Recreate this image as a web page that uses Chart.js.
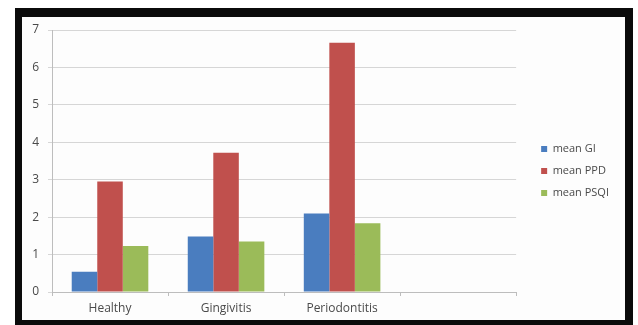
<!DOCTYPE html>
<html>
<head>
<meta charset="utf-8">
<script src="https://cdn.jsdelivr.net/npm/chart.js@4/dist/chart.umd.min.js"></script>
<style>
  html, body { margin: 0; padding: 0; background: #ffffff; }
  #wrap { position: relative; width: 638px; height: 325px; overflow: hidden; }
  #frame {
    position: absolute; left: 15px; top: 8px; width: 603px; height: 303px;
    border-style: solid; border-color: #0b0b0b;
    border-width: 9px 8px 5px 7px; background: #fdfdfd;
  }
  #chart { position: absolute; left: 0; top: 0; }
</style>
</head>
<body>
<div id="wrap">
  <div id="frame"></div>
  <canvas id="chart" width="638" height="325"></canvas>
</div>
<script>
// Groups along the x axis (the last slot is left empty)
const categories = ['Healthy', 'Gingivitis', 'Periodontitis', ''];

// Mean scores per group
const meanGI   = [0.54, 1.48, 2.10, null];
const meanPPD  = [2.95, 3.72, 6.66, null];
const meanPSQI = [1.23, 1.35, 1.84, null];

// Value axis ticks
const yTicks = [0, 1, 2, 3, 4, 5, 6, 7];

const seriesNames = ['mean GI', 'mean PPD', 'mean PSQI'];
const seriesColors = ['#4a7dbf', '#c0504d', '#9bbb59'];

const textColor = '#4a4a4a';
const font = { family: '"Open Sans", "Liberation Sans", sans-serif', size: 12 };

// Nudge the legend block up a little after layout
const legendShift = {
  id: 'legendShift',
  afterLayout(chart) {
    if (chart.legend) {
      chart.legend.top -= 4;
      chart.legend.bottom -= 4;
    }
  }
};

new Chart(document.getElementById('chart'), {
  type: 'bar',
  data: {
    labels: categories,
    datasets: [meanGI, meanPPD, meanPSQI].map((values, i) => ({
      label: seriesNames[i],
      data: values,
      backgroundColor: seriesColors[i],
      borderWidth: 0,
      barPercentage: 1,
      categoryPercentage: 0.66
    }))
  },
  plugins: [legendShift],
  options: {
    responsive: false,
    animation: false,
    layout: { padding: { left: 22, top: 30, right: 19, bottom: 5 } },
    plugins: {
      tooltip: { enabled: false },
      legend: {
        position: 'right',
        align: 'center',
        labels: {
          boxWidth: 6,
          boxHeight: 6,
          padding: 11,
          color: textColor,
          font: { family: font.family, size: 11 }
        }
      }
    },
    scales: {
      x: {
        grid: { drawOnChartArea: false, drawTicks: true, tickLength: 4, color: '#bdbdbd' },
        border: { display: true, color: '#bdbdbd' },
        ticks: { color: textColor, font: font, padding: 5, maxRotation: 0 },
        afterFit: s => { s.height = 28; }
      },
      y: {
        min: 0,
        max: 7,
        afterBuildTicks: s => { s.ticks = yTicks.map(v => ({ value: v })); },
        grid: { color: '#d6d6d6', tickLength: 4 },
        border: { display: true, color: '#bdbdbd' },
        ticks: { color: textColor, font: font, padding: 9 },
        afterFit: s => { s.width = 30; }
      },
      gap: {
        type: 'linear',
        position: 'right',
        display: true,
        grid: { display: false },
        border: { display: false },
        ticks: { display: false },
        afterFit: s => { s.width = 14; }
      }
    }
  }
});
</script>
</body>
</html>
